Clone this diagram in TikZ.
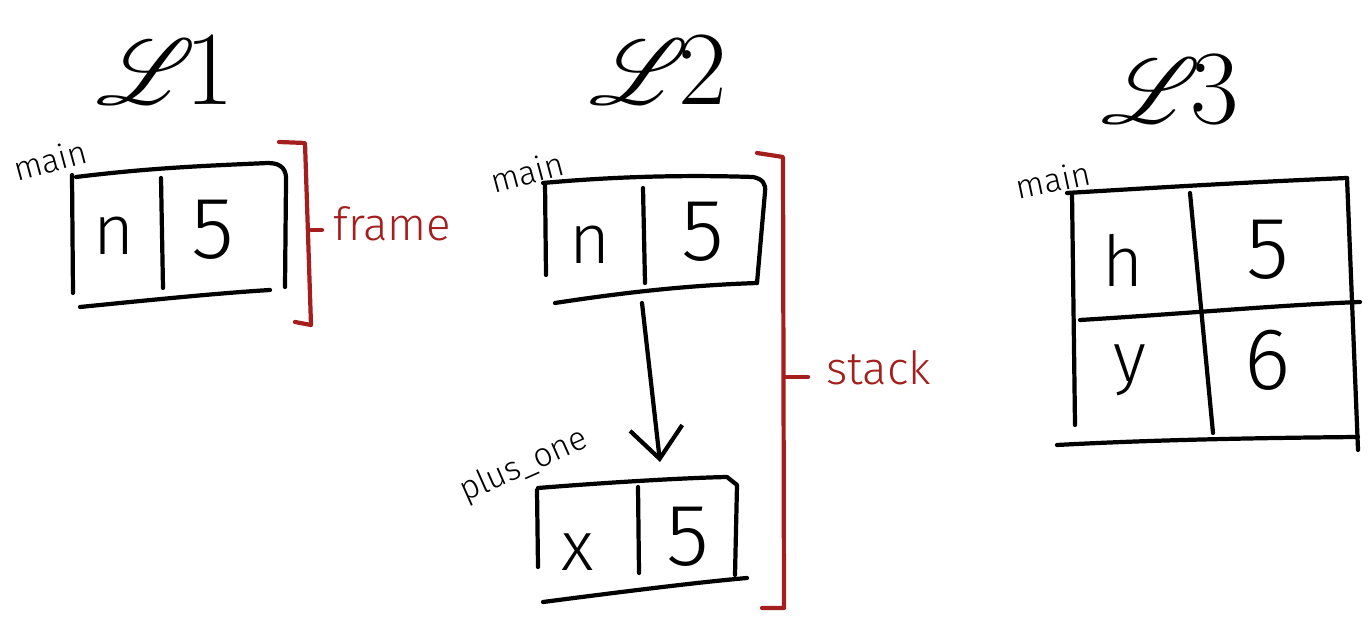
\documentclass[tikz,border=0pt]{standalone}
\usepackage{fontspec}
\usepackage{mathrsfs}
\usepackage{graphicx}
\newfontfamily\hand{Fira Sans Light}
\usetikzlibrary{arrows.meta}
\definecolor{inkred}{RGB}{163,30,28}
\newcommand{\scrL}{\resizebox{!}{1.3cm}{$\mathscr{L}$}}
\tikzset{
  ink/.style={line width=2.4pt, line cap=round, line join=round, black},
  redink/.style={line width=2.4pt, line cap=round, line join=round, inkred},
  letter/.style={font=\hand\fontsize{40}{44}\selectfont, inner sep=0pt},
  digit/.style={font=\hand\fontsize{50}{54}\selectfont, inner sep=0pt},
  lbl/.style={font=\hand\fontsize{19}{21}\selectfont, inner sep=0pt},
  ttl/.style={font=\fontsize{60}{66}\selectfont, inner sep=0pt},
  redlbl/.style={text=inkred, font=\hand\fontsize{26}{28}\selectfont, inner sep=0pt},
  callarrow/.style={ink, -{Straight Barb[length=0.62cm,width=1.05cm,line width=2.4pt]}}
}
\begin{document}
\begin{tikzpicture}[x=0.02cm,y=-0.02cm]
\useasboundingbox (0,0) rectangle (1368,617);

% ---------- L1 ----------
\node[ttl] (t1) at (165,70) {\scrL\kern-6pt 1};
\node[lbl, rotate=15] (m1) at (50,160) {main};
\draw[ink] (72,175) -- (73,293);
\draw[ink] (76,177) .. controls (150,168) and (200,166) .. (268,163)
  .. controls (282,163) and (287,170) .. (286,182) -- (285,287);
\draw[ink] (80,307) .. controls (150,300) and (220,293) .. (270,290);
\draw[ink] (161,178) -- (163,288);
\node[letter] (n1) at (114,236) {n};
\node[digit] (v1) at (213,230) {5};
\draw[redink] (279,142) -- (305,143) -- (311,325) -- (295,322);
\coordinate (b1) at (311,230);
\draw[redink] (b1) -- (322,230);
\node[redlbl, anchor=west] (fr) at (333,224) {frame};

% ---------- L2 ----------
\node[ttl] (t2) at (658,70) {\scrL\kern-6pt 2};
\node[lbl, rotate=15] (m2) at (527,172) {main};
\draw[ink] (545,183) -- (546,275);
\draw[ink] (543,183) .. controls (620,176) and (690,175) .. (753,177)
  .. controls (763,179) and (766,184) .. (765,192) -- (757,283);
\draw[ink] (555,303) .. controls (640,290) and (700,285) .. (757,283);
\draw[ink] (643,188) -- (645,283);
\node[letter] (n2) at (590,245) {n};
\node[digit] (v2) at (703,232) {5};

\node[lbl, rotate=24] (p2) at (524,466) {plus\_one};
\draw[ink] (537,490) -- (538,567);
\draw[ink] (538,488) .. controls (600,483) and (680,478) .. (727,477)
  -- (737,485) -- (735,575);
\draw[ink] (543,602) .. controls (620,592) and (700,582) .. (747,578);
\draw[ink] (638,487) -- (639,573);
\node[letter] (n3) at (578,552) {x};
\node[digit] (v3) at (688,537) {5};

\coordinate (aS) at (642,303);
\coordinate (aE) at (660,462);
\draw[callarrow] (aS) -- (aE);

\draw[redink] (757,153) -- (783,157) -- (784,608) -- (762,608);
\coordinate (b2) at (784,377);
\draw[redink] (b2) -- (808,377);
\node[redlbl, anchor=west] (st) at (826,368) {stack};

% ---------- L3 ----------
\node[ttl] (t3) at (1170,90) {\scrL\kern-6pt 3};
\node[lbl, rotate=12] (m3) at (1053,180) {main};
\draw[ink] (1067,193) .. controls (1150,188) and (1250,182) .. (1347,178);
\draw[ink] (1347,178) -- (1358,450);
\draw[ink] (1072,193) -- (1075,425);
\draw[ink] (1190,193) -- (1213,433);
\draw[ink] (1080,320) .. controls (1180,314) and (1280,305) .. (1360,302);
\draw[ink] (1057,445) .. controls (1150,440) and (1250,438) .. (1358,437);
\node[letter] (c11) at (1123,260) {h};
\node[digit] (c12) at (1268,250) {5};
\node[letter] (c21) at (1130,370) {y};
\node[digit] (c22) at (1267,360) {6};
\end{tikzpicture}
\end{document}
